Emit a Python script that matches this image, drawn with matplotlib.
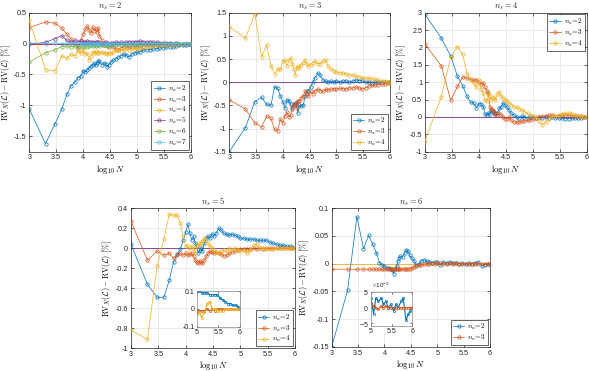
import numpy as np
import matplotlib.pyplot as plt
from matplotlib.ticker import FormatStrFormatter

plt.rcParams['mathtext.fontset'] = 'cm'
plt.rcParams['font.family'] = ['Liberation Sans', 'DejaVu Sans']
plt.rcParams['axes.unicode_minus'] = False

# sample sizes N (in thousands) shared by every series
n_thousand = [1, 2, 3, 4, 5, 6, 7, 8, 9, 10,
              11, 12, 13, 14, 15, 16, 17, 18, 19, 20,
              22, 24, 26, 28, 30, 33, 36, 40, 45, 50,
              56, 63, 70, 80, 90, 100, 115, 130, 150, 175,
              200, 230, 260, 300, 350, 400, 460, 530, 600, 700,
              800, 900, 1000]

# n_s = 2
s2_a2 = [-1.06, -1.62, -1.30, -1.06, -0.82, -0.68, -0.62, -0.55, -0.53, -0.44,
         -0.46, -0.42, -0.39, -0.36, -0.35, -0.32, -0.35, -0.31, -0.29, -0.29,
         -0.34, -0.31, -0.33, -0.38, -0.34, -0.30, -0.27, -0.25, -0.22, -0.20,
         -0.17, -0.19, -0.22, -0.17, -0.15, -0.14, -0.13, -0.11, -0.10, -0.10,
         -0.09, -0.08, -0.07, -0.07, -0.06, -0.05, -0.05, -0.04, -0.03, -0.02,
         -0.02, -0.01, 0.0]
s2_a3 = [0.26, 0.35, 0.33, 0.25, 0.15, 0.07, 0.00, -0.08, 0.05, 0.16,
         0.23, 0.28, 0.22, 0.17, 0.27, 0.21, 0.23, 0.18, 0.25, 0.12,
         0.06, -0.02, 0.00, -0.04, -0.05, -0.03, -0.06, -0.08, -0.10, -0.07,
         -0.05, -0.04, -0.06, -0.05, -0.04, -0.05, -0.06, -0.05, -0.03, -0.04,
         -0.03, -0.02, -0.03, -0.02, -0.02, -0.01, -0.02, -0.01, -0.01, -0.01,
         -0.01, 0.0, 0.0]
s2_a4 = [0.38, -0.42, -0.44, -0.20, -0.24, -0.17, -0.20, -0.12, -0.16, -0.10,
         -0.17, -0.16, -0.27, -0.20, -0.13, -0.16, -0.12, -0.16, -0.14, -0.15,
         -0.13, -0.16, -0.15, -0.17, -0.15, -0.16, -0.14, -0.11, -0.10, -0.12,
         -0.08, -0.09, -0.10, -0.08, -0.07, -0.08, -0.06, -0.05, -0.05, -0.04,
         -0.04, -0.03, -0.03, -0.02, -0.02, -0.02, -0.01, -0.01, -0.01, 0.0,
         0.0, 0.0, 0.0]
s2_a5 = [-0.01, 0.02, 0.08, 0.13, 0.05, 0.02, 0.05, 0.03, 0.04, 0.02,
         0.03, 0.04, 0.02, 0.03, 0.02, 0.01, 0.02, 0.03, 0.02, 0.01,
         0.00, 0.01, 0.02, 0.01, 0.00, 0.01, 0.01, 0.02, 0.01, 0.02,
         0.01, 0.02, 0.03, 0.02, 0.03, 0.02, 0.04, 0.03, 0.02, 0.03,
         0.02, 0.02, 0.01, 0.01, 0.01, 0.01, 0.00, 0.01, 0.00, 0.00,
         0.00, 0.00, 0.00]
s2_a6 = [-0.30, -0.15, -0.10, -0.05, -0.04, -0.05, -0.04, -0.06, -0.04, -0.05,
         -0.04, -0.05, -0.04, -0.03, -0.04, -0.03, -0.04, -0.03, -0.03, -0.04,
         -0.03, -0.02, -0.03, -0.02, -0.02, -0.02, -0.01, -0.02, -0.01, -0.01,
         -0.01, -0.01, -0.02, -0.01, -0.01, -0.01, 0.00, -0.01, -0.01, 0.00,
         -0.01, 0.00, 0.00, -0.01, 0.00, 0.00, 0.00, 0.00, 0.00, 0.00,
         0.00, 0.00, 0.00]
s2_a7 = [0.01, 0.00, 0.01, 0.00, 0.00, 0.01, 0.00, 0.00, 0.01, 0.00,
         0.00, 0.00, 0.01, 0.00, 0.00, 0.00, 0.00, 0.01, 0.00, 0.00,
         0.00, 0.00, 0.00, 0.00, 0.00, 0.00, 0.00, 0.00, 0.00, 0.00,
         0.00, 0.00, 0.00, 0.00, 0.00, 0.00, 0.00, 0.00, 0.00, 0.00,
         0.00, 0.00, 0.00, 0.00, 0.00, 0.00, 0.00, 0.00, 0.00, 0.00,
         0.00, 0.00, 0.00]

# n_s = 3
s3_a2 = [-1.50, -0.98, -0.42, -0.33, -0.48, -0.50, -0.10, -0.13, -0.30, -0.42,
         -0.56, -0.38, -0.40, -0.48, -0.57, -0.46, -0.50, -0.43, -0.67, -0.50,
         -0.52, -0.50, -0.30, -0.20, -0.18, -0.10, 0.00, 0.10, 0.20, 0.15,
         0.05, 0.02, 0.00, 0.02, 0.00, 0.03, 0.00, 0.02, 0.03, 0.00,
         0.02, 0.05, 0.03, 0.04, 0.00, 0.01, -0.02, 0.00, 0.01, 0.00,
         0.01, 0.00, 0.0]
s3_a3 = [-0.38, -0.58, -0.88, -0.97, -0.73, -0.78, -1.02, -1.05, -0.80, -0.88,
         -0.72, -0.65, -0.75, -0.70, -0.55, -0.50, -0.45, -0.55, -0.40, -0.40,
         -0.35, -0.30, -0.20, -0.25, -0.30, -0.20, -0.25, -0.18, -0.15, -0.18,
         -0.20, -0.15, -0.17, -0.15, -0.14, -0.15, -0.13, -0.14, -0.15, -0.12,
         -0.13, -0.10, -0.12, -0.15, -0.12, -0.08, -0.07, -0.06, -0.05, -0.04,
         -0.03, -0.01, 0.0]
s3_a4 = [1.20, 0.95, 1.48, 0.55, 0.80, 0.35, 0.18, 0.28, 0.28, 0.45,
         0.47, 0.35, 0.47, 0.52, 0.40, 0.28, 0.15, 0.30, 0.35, 0.30,
         0.38, 0.42, 0.48, 0.40, 0.35, 0.38, 0.42, 0.45, 0.40, 0.40,
         0.45, 0.48, 0.35, 0.28, 0.25, 0.22, 0.20, 0.20, 0.18, 0.16,
         0.15, 0.13, 0.12, 0.10, 0.09, 0.08, 0.07, 0.06, 0.04, 0.03,
         0.02, 0.01, 0.0]

# n_s = 4
s4_a2 = [2.95, 2.27, 1.75, 1.17, 0.90, 0.60, 0.42, 0.40, 0.27, 0.38,
         0.38, 0.30, 0.08, 0.05, 0.12, 0.08, 0.20, 0.18, 0.12, 0.08,
         0.10, 0.25, 0.30, 0.40, 0.35, 0.28, 0.20, 0.10, 0.05, 0.00,
         -0.02, 0.02, 0.00, -0.02, 0.00, 0.00, -0.02, 0.00, -0.02, 0.00,
         -0.02, -0.01, -0.03, -0.03, -0.04, -0.05, -0.05, -0.04, -0.03, -0.04,
         -0.02, -0.01, 0.0]
s4_a3 = [2.10, 1.47, 0.48, 0.88, 1.15, 1.12, 1.08, 1.05, 1.07, 1.00,
         0.95, 0.98, 0.85, 0.75, 0.70, 0.30, 0.22, 0.20, 0.15, 0.08,
         0.05, 0.10, 0.05, 0.00, -0.05, -0.05, 0.00, -0.10, -0.15, -0.15,
         -0.14, -0.12, -0.12, -0.10, -0.08, -0.05, -0.02, 0.00, 0.02, 0.03,
         0.05, 0.05, 0.04, 0.03, 0.05, 0.06, 0.05, 0.04, 0.03, 0.02,
         0.02, 0.01, 0.0]
s4_a4 = [-0.70, 0.58, 1.72, 2.02, 1.80, 1.25, 1.05, 0.98, 0.85, 1.05,
         0.80, 0.70, 0.50, 0.45, 0.65, 0.60, 0.50, 0.58, 0.55, 0.50,
         0.65, 0.72, 0.60, 0.55, 0.50, 0.45, 0.40, 0.35, 0.30, 0.28,
         0.24, 0.20, 0.15, 0.10, 0.05, 0.03, 0.00, -0.12, -0.22, -0.15,
         -0.05, 0.02, 0.04, 0.06, 0.08, 0.10, 0.10, 0.08, 0.05, 0.03,
         0.02, 0.01, 0.0]

# n_s = 5
s5_a2 = [0.04, -0.36, -0.49, -0.49, -0.32, -0.14, -0.06, -0.01, 0.08, 0.16,
         0.24, 0.15, 0.08, 0.12, 0.05, 0.02, -0.05, -0.02, 0.00, -0.03,
         0.05, 0.10, 0.12, 0.10, 0.14, 0.12, 0.15, 0.20, 0.18, 0.15,
         0.14, 0.13, 0.14, 0.13, 0.12, 0.10, 0.10, 0.09, 0.09, 0.09,
         0.08, 0.08, 0.08, 0.08, 0.06, 0.05, 0.04, 0.03, 0.03, 0.02,
         0.02, 0.01, 0.0]
s5_a3 = [0.27, -0.12, -0.03, -0.07, -0.05, -0.10, -0.07, -0.05, -0.07, -0.05,
         -0.07, -0.06, -0.05, -0.08, -0.12, -0.14, -0.15, -0.13, -0.14, -0.15,
         -0.12, -0.08, -0.05, -0.03, -0.04, -0.05, -0.04, -0.05, -0.06, -0.08,
         -0.07, -0.05, -0.04, -0.03, -0.02, -0.01, -0.01, -0.01, -0.01, 0.00,
         -0.01, 0.00, -0.01, 0.00, 0.00, 0.00, 0.00, 0.00, 0.00, 0.00,
         0.00, 0.00, 0.0]
s5_a4 = [-0.82, -0.91, -0.18, 0.09, 0.34, 0.33, 0.33, 0.25, 0.12, 0.02,
         0.02, -0.02, 0.02, 0.00, -0.05, 0.02, 0.05, 0.02, 0.05, 0.07,
         0.10, 0.08, 0.05, 0.02, 0.00, -0.02, -0.04, -0.05, -0.03, -0.02,
         -0.03, 0.00, -0.02, 0.00, -0.02, -0.03, -0.02, -0.05, -0.02, 0.03,
         0.04, 0.00, 0.00, -0.01, -0.01, -0.01, 0.00, 0.00, 0.00, 0.00,
         0.00, 0.00, 0.0]

# n_s = 6
s6_a2 = [-0.150, -0.048, 0.085, 0.027, 0.051, 0.035, 0.020, 0.002, -0.002, -0.005,
         -0.008, -0.007, -0.010, -0.012, -0.018, -0.010, -0.005, 0.005, 0.010, 0.013,
         0.012, 0.020, 0.025, 0.022, 0.015, 0.010, 0.005, -0.003, 0.000, 0.005,
         0.007, 0.004, 0.003, 0.002, 0.003, 0.003, -0.002, 0.003, 0.002, 0.003,
         0.001, 0.002, 0.000, 0.001, -0.001, 0.001, 0.000, 0.002, 0.003, -0.004,
         -0.002, -0.001, 0.0]
s6_a3 = [-0.010, -0.010, -0.010, -0.010, -0.010, -0.010, -0.010, -0.010, -0.010, -0.010,
         -0.010, -0.010, -0.010, -0.010, -0.010, -0.010, -0.010, -0.010, -0.010, -0.010,
         -0.010, -0.010, -0.010, -0.010, -0.009, -0.008, -0.006, -0.004, -0.003, -0.002,
         -0.001, 0.000, 0.000, 0.001, 0.000, 0.0015, 0.0005, 0.000, -0.0005, 0.0005,
         0.000, 0.0005, 0.000, 0.000, 0.000, 0.000, 0.000, 0.000, 0.000, 0.000,
         0.000, 0.000, 0.0]

colors = ['#0072BD', '#D95319', '#EDB120', '#7E2F8E',
          '#77AC30', '#4DBEEE', '#A2142F']
axis_color = '#262626'

log_n = np.log10(np.array(n_thousand) * 1000.0)


def style_axes(ax, labelsize=5.2):
    ax.tick_params(direction='in', length=2, width=0.5, labelsize=labelsize,
                   colors=axis_color, top=True, right=True, pad=2)
    for sp in ax.spines.values():
        sp.set_color(axis_color)
        sp.set_linewidth(0.5)


def draw_panel(fig, rect, ns, series, ylim, yticks, legend_loc):
    ax = fig.add_axes(rect)
    # reference line at zero, uses the next colour in the order
    ax.plot([3, 6], [0, 0], color=colors[len(series)], lw=0.6, zorder=1.5)
    for i, y in enumerate(series):
        ax.plot(log_n, y, '-o', color=colors[i], lw=0.5, ms=2.4, mew=0.5,
                mfc='none', label=r'$n_a\!=\!%d$' % (i + 2), zorder=2 + i)
    ax.set_xlim(3, 6)
    ax.set_ylim(*ylim)
    ax.set_xticks([3, 3.5, 4, 4.5, 5, 5.5, 6])
    ax.set_yticks(yticks)
    ax.xaxis.set_major_formatter(FormatStrFormatter('%g'))
    ax.yaxis.set_major_formatter(FormatStrFormatter('%g'))
    ax.grid(True, color='#e3e3e3', lw=0.5, zorder=0)
    ax.set_axisbelow(True)
    style_axes(ax)
    ax.set_title(r'$n_s = %d$' % ns, fontsize=6.2, pad=3, color=axis_color)
    ax.set_xlabel(r'$\log_{10} N$', fontsize=6.2, labelpad=1)
    ax.set_ylabel(r'$\mathrm{RV}_N(\mathcal{L}) - \mathrm{RV}(\mathcal{L})\ [\%]$',
                  fontsize=5.8, labelpad=1)
    leg = ax.legend(loc=legend_loc, fontsize=5.2, handlelength=1.6,
                    handletextpad=0.4, borderpad=0.3, labelspacing=0.08,
                    borderaxespad=0.25, fancybox=False, framealpha=1)
    leg.get_frame().set_edgecolor(axis_color)
    leg.get_frame().set_linewidth(0.5)
    return ax


def draw_inset(fig, rect, series, ylim, yticks, sci=False):
    ax = fig.add_axes(rect)
    for i, y in enumerate(series):
        ax.plot(log_n, y, '-o', color=colors[i], lw=0.8, ms=1.6, mew=0.5,
                mfc='none')
    ax.set_xlim(5, 6)
    ax.set_ylim(*ylim)
    ax.set_xticks([5, 5.5, 6])
    ax.set_yticks(yticks)
    ax.xaxis.set_major_formatter(FormatStrFormatter('%g'))
    if sci:
        ax.ticklabel_format(axis='y', style='sci', scilimits=(0, 0),
                            useMathText=True)
        ax.yaxis.get_offset_text().set_fontsize(4.5)
        ax.yaxis.get_offset_text().set_color('#888888')
    else:
        ax.yaxis.set_major_formatter(FormatStrFormatter('%g'))
    style_axes(ax, labelsize=5)
    for sp in ax.spines.values():
        sp.set_color('#888888')
    ax.tick_params(pad=1.5, length=1.5)
    return ax


fig = plt.figure(figsize=(5.89, 3.71), dpi=100)

draw_panel(fig, [0.0497, 0.5911, 0.2746, 0.3747], 2,
           [s2_a2, s2_a3, s2_a4, s2_a5, s2_a6, s2_a7],
           (-1.75, 0.5), [-1.5, -1, -0.5, 0, 0.5], 'lower right')
draw_panel(fig, [0.3893, 0.5911, 0.2728, 0.3747], 3,
           [s3_a2, s3_a3, s3_a4],
           (-1.5, 1.5), [-1.5, -1, -0.5, 0, 0.5, 1, 1.5], 'lower right')
draw_panel(fig, [0.7216, 0.5911, 0.2745, 0.3747], 4,
           [s4_a2, s4_a3, s4_a4],
           (-1, 3), [-1, -0.5, 0, 0.5, 1, 1.5, 2, 2.5, 3], 'upper right')
draw_panel(fig, [0.2224, 0.0612, 0.2784, 0.3774], 5,
           [s5_a2, s5_a3, s5_a4],
           (-1, 0.4), [-1, -0.8, -0.6, -0.4, -0.2, 0, 0.2, 0.4], 'lower right')
draw_panel(fig, [0.5632, 0.0654, 0.2688, 0.3732], 6,
           [s6_a2, s6_a3],
           (-0.15, 0.1), [-0.15, -0.1, -0.05, 0, 0.05, 0.1], 'lower right')

draw_inset(fig, [0.334, 0.1194, 0.0735, 0.0962],
           [s5_a2, s5_a3, s5_a4], (-0.1, 0.1), [-0.1, 0, 0.1])
draw_inset(fig, [0.630, 0.1221, 0.0701, 0.0916],
           [s6_a2, s6_a3], (-0.0057, 0.005), [-0.005, 0, 0.005], sci=True)

fig.savefig('out.png', dpi=100)
